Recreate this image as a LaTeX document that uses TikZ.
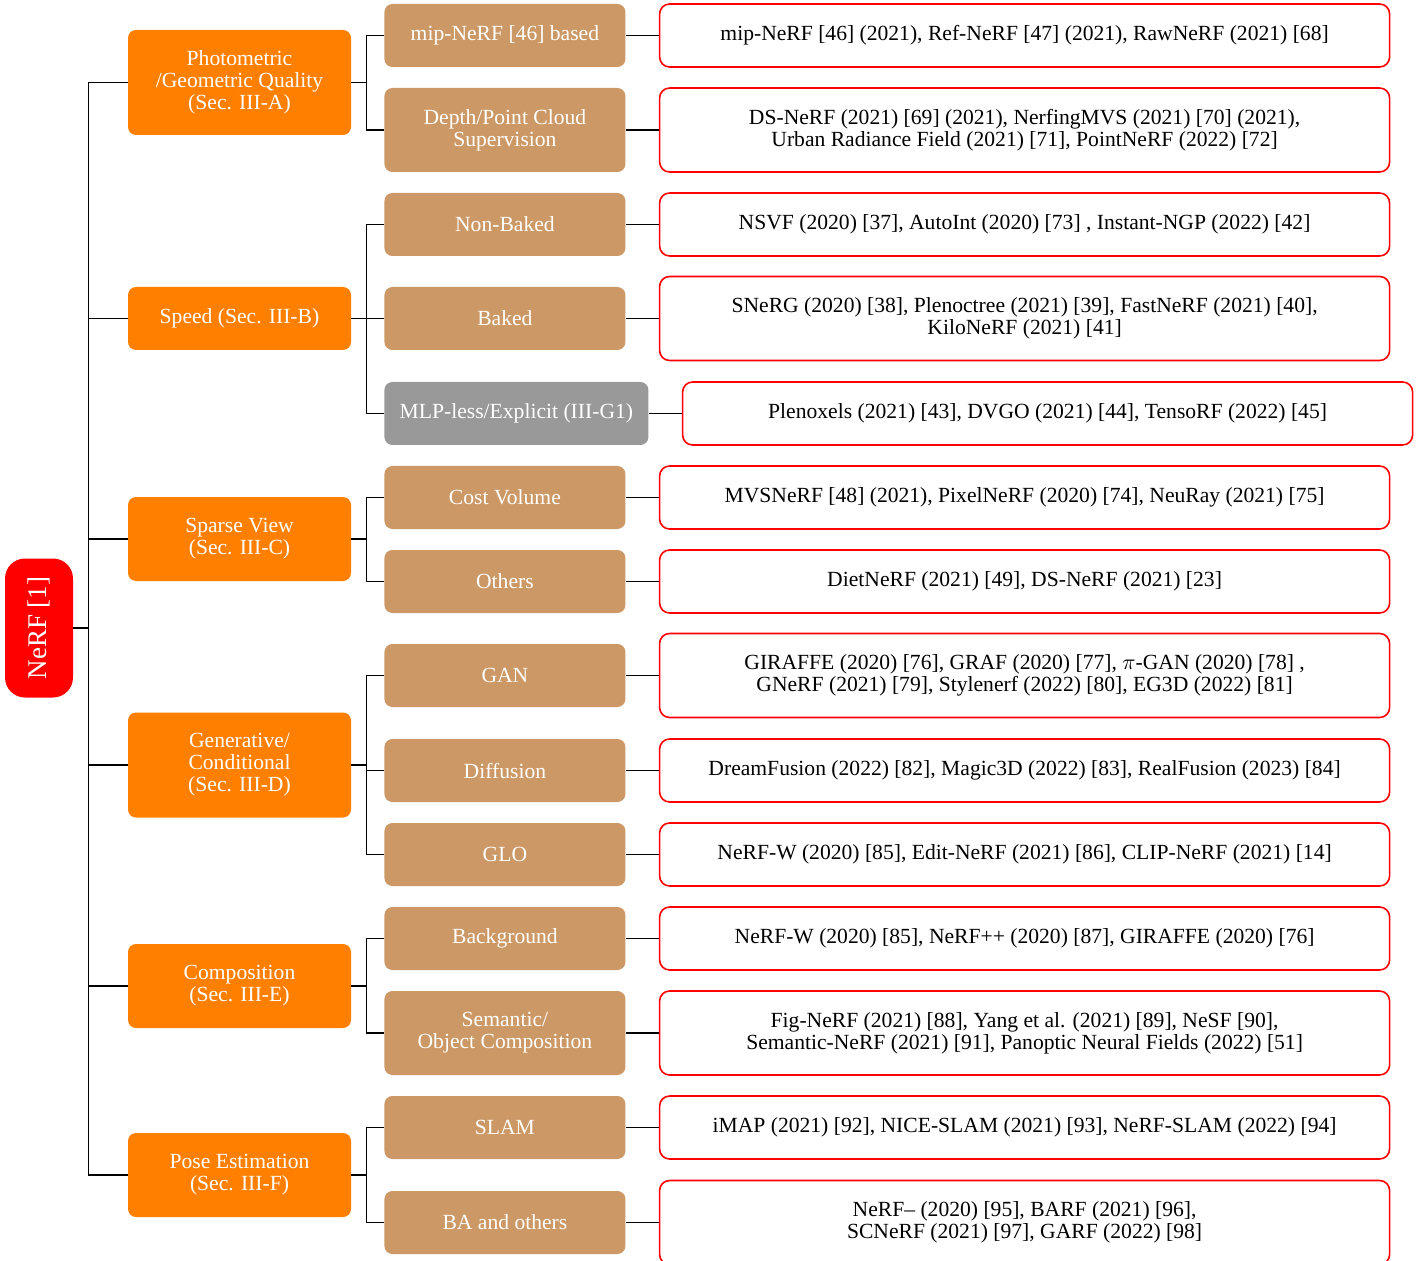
\documentclass[tikz,border=0pt]{standalone}
\usepackage{fontspec}
\setmainfont{Liberation Serif}
\usetikzlibrary{positioning}
\definecolor{nerfred}{RGB}{255,0,0}
\definecolor{catorange}{RGB}{255,128,0}
\definecolor{subtan}{RGB}{204,153,102}
\definecolor{mlpgray}{RGB}{153,153,153}
\tikzset{base/.style={align=center, inner sep=0pt, font=\fontsize{10.8}{11}\selectfont},
    rootbox/.style={base, fill=nerfred, text=white, rounded corners=10pt,
        minimum width=34pt, minimum height=69.5pt, font=\fontsize{13.5}{15}\selectfont},
    catbox/.style={base, fill=catorange, text=white, rounded corners=4pt, minimum width=111.5pt},
    subbox/.style={base, fill=subtan, text=white, rounded corners=4pt, minimum width=120.5pt, anchor=west},
    refbox/.style={base, draw=nerfred, line width=0.8pt, text=black, rounded corners=5pt, minimum width=365pt},
    short/.style={minimum height=31.5pt},
    tall/.style={minimum height=42pt},
    link/.style={line width=0.6pt},
    }

\begin{document}
\begin{tikzpicture}[x=0.5pt, y=-0.5pt]
\useasboundingbox (0,0) rectangle (1428,1261);
% root and categories
\node[rootbox] (nerf) at (39,628) {\rotatebox{90}{NeRF [1]}};
\node[catbox, minimum height=52.5pt] (photo) at (239.5,82.5) {Photometric\\/Geometric Quality\\(Sec. III-A)};
\node[catbox, short] (speed) at (239.5,318.5) {Speed (Sec. III-B)};
\node[catbox, tall] (sparse) at (239.5,539) {Sparse View\\(Sec. III-C)};
\node[catbox, minimum height=52.5pt] (gen) at (239.5,765) {Generative/\\Conditional\\(Sec. III-D)};
\node[catbox, tall] (comp) at (239.5,986) {Composition\\(Sec. III-E)};
\node[catbox, tall] (pose) at (239.5,1175) {Pose Estimation\\(Sec. III-F)};
% sub-categories
\node[subbox, short] (mip) at (384,35.5) {mip-NeRF [46] based};
\node[subbox, tall] (depth) at (384,130) {Depth/Point Cloud\\Supervision};
\node[subbox, short] (nonbaked) at (384,224.5) {Non-Baked};
\node[subbox, short] (baked) at (384,318.5) {Baked};
\node[subbox, short, fill=mlpgray, minimum width=132pt] (mlpless) at (384,413.5) {MLP-less/Explicit (III-G1)};
\node[subbox, short] (cost) at (384,497.5) {Cost Volume};
\node[subbox, short] (others) at (384,581.5) {Others};
\node[subbox, short] (gan) at (384,675.5) {GAN};
\node[subbox, short] (diff) at (384,770.5) {Diffusion};
\node[subbox, short] (glo) at (384,854.5) {GLO};
\node[subbox, short] (bg) at (384,938.5) {Background};
\node[subbox, tall] (sem) at (384,1033) {Semantic/\\Object Composition};
\node[subbox, short] (slam) at (384,1127.5) {SLAM};
\node[subbox, short] (ba) at (384,1222.5) {BA and others};
% works
\node[refbox, short, right=16.5pt of mip] (mipref) {mip-NeRF [46] (2021), Ref-NeRF [47] (2021), RawNeRF (2021) [68]};
\node[refbox, tall, right=16.5pt of depth] (depthref) {DS-NeRF (2021) [69] (2021), NerfingMVS (2021) [70] (2021),\\Urban Radiance Field (2021) [71], PointNeRF (2022) [72]};
\node[refbox, short, right=16.5pt of nonbaked] (nonbakedref) {NSVF (2020) [37], AutoInt (2020) [73] , Instant-NGP (2022) [42]};
\node[refbox, tall, right=16.5pt of baked] (bakedref) {SNeRG (2020) [38], Plenoctree (2021) [39], FastNeRF (2021) [40],\\KiloNeRF (2021) [41]};
\node[refbox, short, right=16.5pt of mlpless] (mlplessref) {Plenoxels (2021) [43], DVGO (2021) [44], TensoRF (2022) [45]};
\node[refbox, short, right=16.5pt of cost] (costref) {MVSNeRF [48] (2021), PixelNeRF (2020) [74], NeuRay (2021) [75]};
\node[refbox, short, right=16.5pt of others] (othersref) {DietNeRF (2021) [49], DS-NeRF (2021) [23]};
\node[refbox, tall, right=16.5pt of gan] (ganref) {GIRAFFE (2020) [76], GRAF (2020) [77], $\pi$-GAN (2020) [78] ,\\GNeRF (2021) [79], Stylenerf (2022) [80], EG3D (2022) [81]};
\node[refbox, short, right=16.5pt of diff] (diffref) {DreamFusion (2022) [82], Magic3D (2022) [83], RealFusion (2023) [84]};
\node[refbox, short, right=16.5pt of glo] (gloref) {NeRF-W (2020) [85], Edit-NeRF (2021) [86], CLIP-NeRF (2021) [14]};
\node[refbox, short, right=16.5pt of bg] (bgref) {NeRF-W (2020) [85], NeRF++ (2020) [87], GIRAFFE (2020) [76]};
\node[refbox, tall, right=16.5pt of sem] (semref) {Fig-NeRF (2021) [88], Yang et al. (2021) [89], NeSF [90],\\Semantic-NeRF (2021) [91], Panoptic Neural Fields (2022) [51]};
\node[refbox, short, right=16.5pt of slam] (slamref) {iMAP (2021) [92], NICE-SLAM (2021) [93], NeRF-SLAM (2022) [94]};
\node[refbox, tall, right=16.5pt of ba] (baref) {NeRF-- (2020) [95], BARF (2021) [96],\\SCNeRF (2021) [97], GARF (2022) [98]};
% connectors
\foreach \c in {photo,speed,sparse,gen,comp,pose}
    \draw[link] (nerf.east) -- ++(15,0) |- (\c.west);
\foreach \p/\s in {photo/mip,photo/depth,speed/nonbaked,speed/baked,speed/mlpless,
    sparse/cost,sparse/others,gen/gan,gen/diff,gen/glo,comp/bg,comp/sem,pose/slam,pose/ba}
    \draw[link] (\p.east) -- ++(15,0) |- (\s.west);
\foreach \s in {mip,depth,nonbaked,baked,mlpless,cost,others,gan,diff,glo,bg,sem,slam,ba}
    \draw[link] (\s.east) -- (\s ref.west);
\end{tikzpicture}
\end{document}
